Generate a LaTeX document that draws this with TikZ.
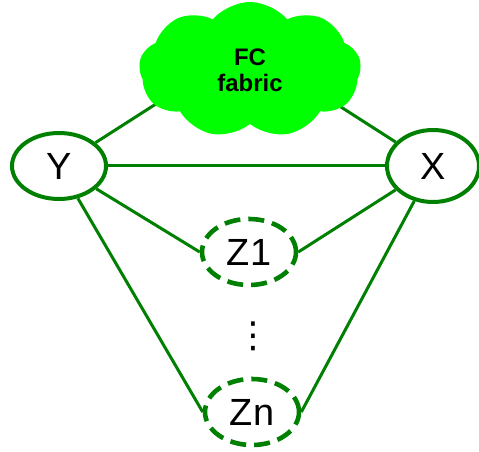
\documentclass[tikz,border=0pt]{standalone}
\usepackage{fontspec}
\setmainfont{Liberation Sans}
\newfontfamily\symfont{DejaVu Sans}
\usetikzlibrary{shapes.geometric,shapes.symbols}
\definecolor{linkgreen}{RGB}{0,128,0}
\definecolor{fabricgreen}{RGB}{0,255,0}
\tikzset{
  host/.style={
    shape = ellipse,
    draw = linkgreen,
    line width = 2bp,
    inner sep = 0pt,
    minimum width = 47bp,
    minimum height = 33bp,
    font = \fontsize{19}{19}\selectfont
  },
  zone/.style={
    host,
    dash pattern = on 8bp off 4bp,
    line width = 2.3bp
  },
  link/.style={
    draw = linkgreen,
    line width = 1.5bp
  },
  fabric/.style={
    shape = cloud,
    cloud puffs = 9,
    cloud puff arc = 100,
    aspect = 1.6,
    fill = fabricgreen,
    inner sep = 0pt,
    minimum width = 111bp,
    minimum height = 68bp,
    align = center,
    font = \fontsize{12}{13}\selectfont\bfseries
  }
}

\begin{document}
\begin{tikzpicture}[x=0.5bp,y=-0.5bp]
    \useasboundingbox (0,0) rectangle (479,452);
    \node[host] (Y) at (59,166) {Y};
    \node[host, minimum width = 46bp, minimum height = 36bp] (X) at (433,166) {X};
    \node[zone] (Z1) at (249,252) {Z1};
    \node[zone] (Zn) at (252,412) {Zn};
    \node[font = \symfont\fontsize{18}{18}\selectfont] (dots) at (253,336) {⋮};

    % links into the fabric, hidden under the cloud
    \coordinate (fcY) at (170,95);
    \coordinate (fcX) at (330,100);
    \draw[link] (Y) -- (fcY);
    \draw[link] (X) -- (fcX);

    \draw[link] (Y) -- (X);
    \draw[link] (Y) -- (Z1.west);
    \draw[link] (Y) -- (Zn.west);
    \draw[link] (X) -- (Z1.east);
    \draw[link] (X) -- (Zn.east);

    \node[fabric] (fc) at (250,70) {FC\\fabric};
\end{tikzpicture}
\end{document}
